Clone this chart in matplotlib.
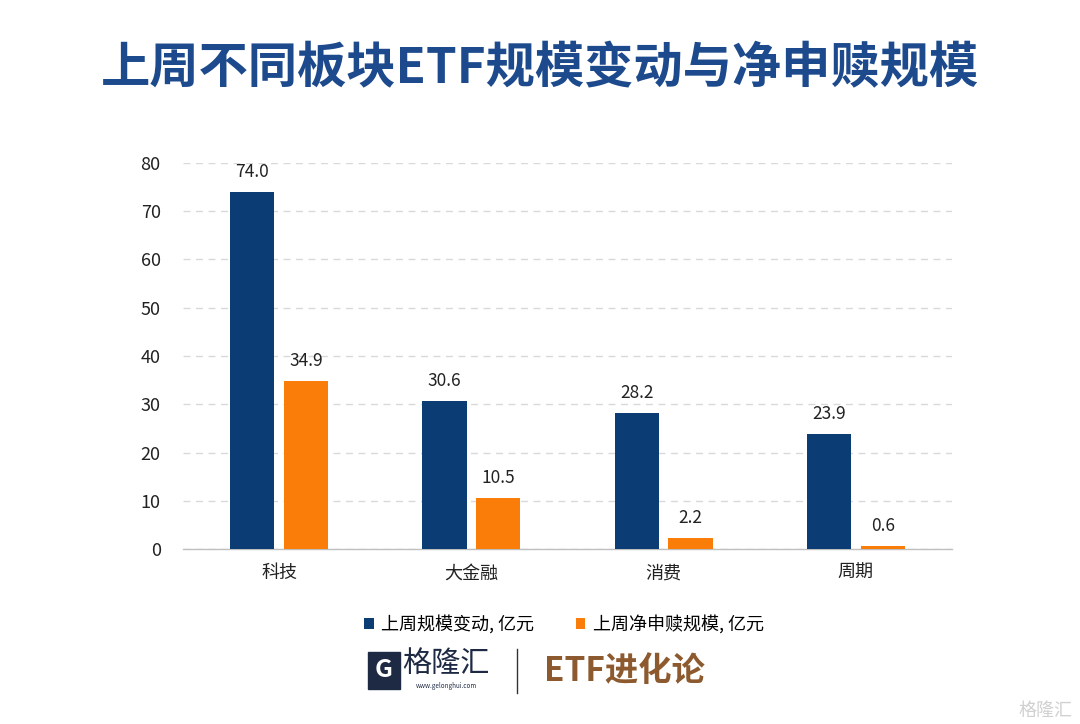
import matplotlib
matplotlib.use("Agg")
import matplotlib.pyplot as plt
import numpy as np
from matplotlib.patches import Rectangle

plt.rcParams['font.family'] = ['Noto Sans CJK SC', 'DejaVu Sans']

categories = ["科技", "大金融", "消费", "周期"]
scale_change = [74.0, 30.6, 28.2, 23.9]
net_subscription = [34.9, 10.5, 2.2, 0.6]
series_names = ["上周规模变动, 亿元", "上周净申赎规模, 亿元"]
yticks = [0, 10, 20, 30, 40, 50, 60, 70, 80]

blue = "#0B3D74"
orange = "#FA7D0A"

fig = plt.figure(figsize=(10.8, 7.24), dpi=100)
fig.patch.set_facecolor("white")

# title
fig.text(0.5, 0.905, "上周不同板块ETF规模变动与净申赎规模", ha="center", va="center",
         fontsize=35.5, fontweight="bold", color="#1C4A8C")

ax = fig.add_axes([0.1694, 0.2417, 0.7121, 0.5332])
x = np.arange(len(categories))
w = 0.23
b1 = ax.bar(x - 0.14, scale_change, width=w, color=blue, label=series_names[0], zorder=3)
b2 = ax.bar(x + 0.14, net_subscription, width=w, color=orange, label=series_names[1], zorder=3)

for bars, vals in ((b1, scale_change), (b2, net_subscription)):
    for r, v in zip(bars, vals):
        ax.text(r.get_x() + r.get_width() / 2, v + 2.3, f"{v:.1f}", ha="center", va="bottom",
                fontsize=12.5, color="#222222")

ax.set_xlim(-0.5, 3.5)
ax.set_ylim(0, 80)
ax.set_yticks(yticks)
ax.set_xticks(x)
ax.set_xticklabels(categories)
ax.tick_params(axis="both", length=0, labelsize=13, colors="#222222")
ax.tick_params(axis="y", pad=16)
ax.tick_params(axis="x", pad=11)
ax.yaxis.grid(True, linestyle=(0, (5, 4)), color="#D9D9D9", linewidth=1, zorder=0)
for s in ["top", "right", "left"]:
    ax.spines[s].set_visible(False)
ax.spines["bottom"].set_color("#BFBFBF")
ax.spines["bottom"].set_linewidth(1)

fig.legend(handles=[b1, b2], labels=series_names, loc="center", bbox_to_anchor=(0.522, 0.138),
           ncol=2, frameon=False, fontsize=13, handlelength=0.55, handleheight=0.55,
           columnspacing=2.3, handletextpad=0.4)

# logo area
icon = Rectangle((0.341, 0.048), 0.029, 0.052, transform=fig.transFigure, color="#1E2A44")
fig.patches.append(icon)
fig.text(0.3555, 0.075, "G", ha="center", va="center", fontsize=18, fontweight="bold",
         color="white")
fig.text(0.413, 0.083, "格隆汇", ha="center", va="center", fontsize=21, color="#1E2A44")
fig.text(0.413, 0.052, "www.gelonghui.com", ha="center", va="center", fontsize=4.5, color="#1E2A44")
fig.add_artist(plt.Line2D([0.479, 0.479], [0.043, 0.103], transform=fig.transFigure,
                          color="#333333", linewidth=1))
fig.text(0.504, 0.073, "ETF进化论", ha="left", va="center", fontsize=24, fontweight="bold",
         color="#8C5A2E")

# watermark
fig.text(0.993, 0.018, "格隆汇", ha="right", va="center", fontsize=13, color="#D0D0D0")

fig.savefig("out.png", dpi=100)
